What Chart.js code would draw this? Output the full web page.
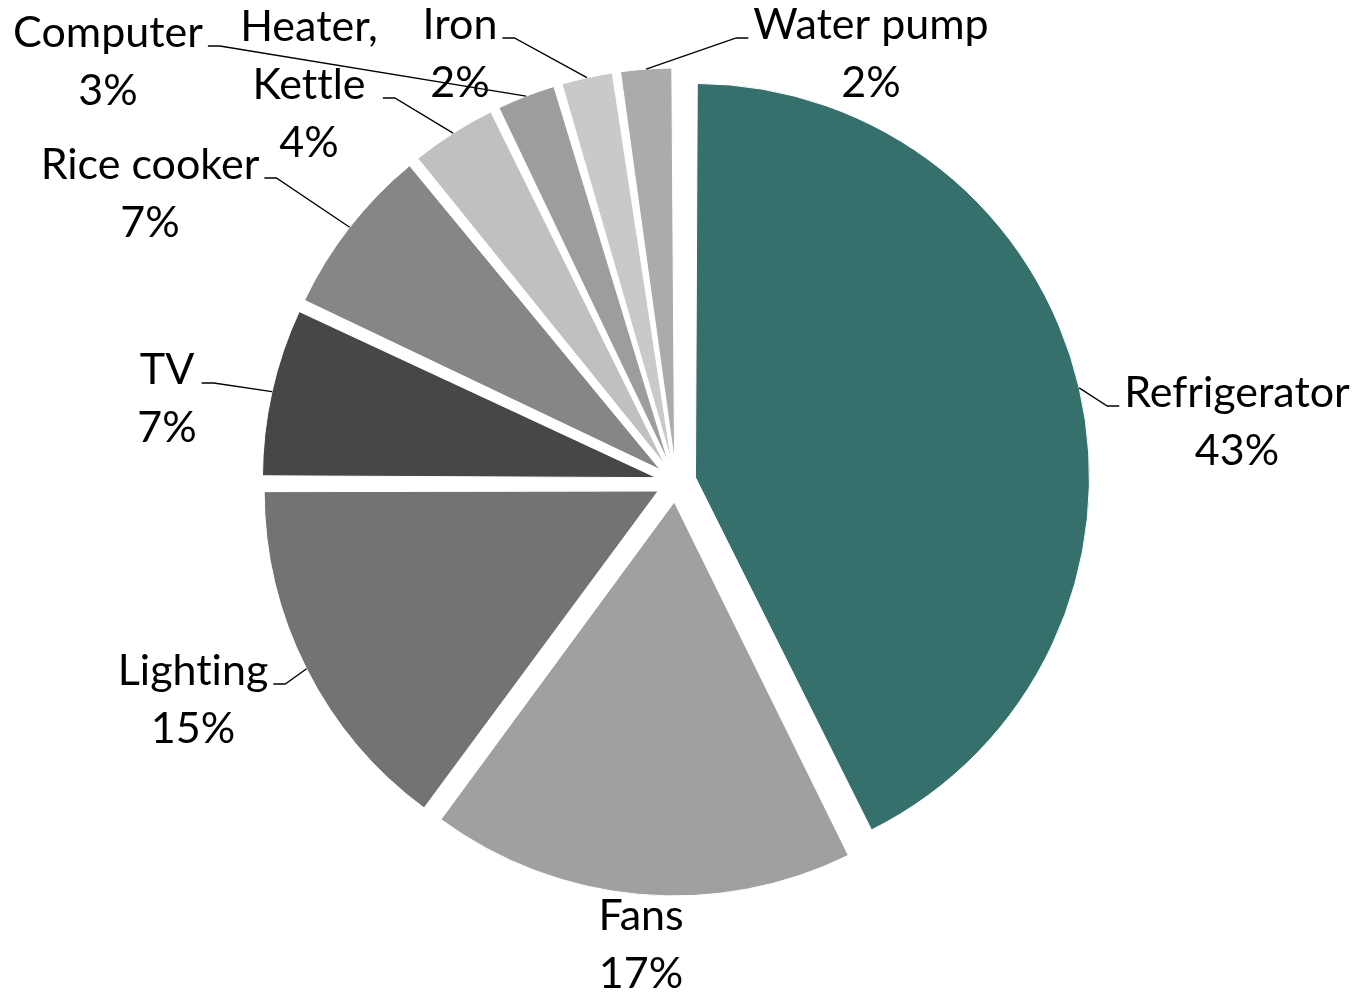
<!DOCTYPE html>
<html>
<head>
<meta charset="utf-8">
<script src="https://cdn.jsdelivr.net/npm/chart.js@4.4.1/dist/chart.umd.min.js"></script>
<style>
  html, body { margin: 0; padding: 0; background: #fff; }
  #wrap { width: 1360px; height: 994px; position: relative; }
</style>
</head>
<body>
<div id="wrap"><canvas id="pie"></canvas></div>
<script>
const categories = ["Refrigerator", "Fans", "Lighting", "TV", "Rice cooker", "Heater, Kettle", "Computer", "Iron", "Water pump"];
const shares = [42.7, 17.4, 14.9, 7.0, 7.1, 3.7, 2.6, 2.3, 2.3];
const sliceColors = ["#35706c", "#a0a0a0", "#737373", "#474747", "#868686", "#c0c0c0", "#9d9d9d", "#c9c9c9", "#ababab"];

// where each label sits (centre of its first line)
const labelX = [1237, 641, 193, 167, 150, 309, 108, 460, 871];
const labelY = [393, 916, 671, 370, 165, 27, 33, 25, 25];
const hasLeader = [true, false, true, true, true, true, true, true, true];

const PIE_RADIUS = 394;
const EXPLODE = 20;
const FONT = "43px Lato";
const LINE_H = 58;

const total = shares.reduce((a, b) => a + b, 0);
const pct = v => Math.round(v / total * 100) + "%";
const wrapName = s => s.split(/(?<=,)\s+/);

// chart.js grows small arcs when offset is set, keep every slice on one radius
const evenExplode = {
    id: "evenExplode",
    beforeDatasetDraw(chart, args) {
        args.meta.data.forEach(arc => {
            const fix = 1 - Math.sin(Math.min(Math.PI, arc.circumference || 0));
            arc.outerRadius = PIE_RADIUS - EXPLODE * fix;
        });
    }
};

const outsideLabels = {
    id: "outsideLabels",
    afterDraw(chart) {
        const ctx = chart.ctx;
        const arcs = chart.getDatasetMeta(0).data;
        ctx.save();
        ctx.font = FONT;
        if ("textRendering" in ctx) ctx.textRendering = "optimizeSpeed"; // no "ti" ligature
        ctx.fillStyle = "#000";
        ctx.strokeStyle = "#000";
        ctx.lineWidth = 1.3;
        ctx.textAlign = "center";
        ctx.textBaseline = "middle";
        arcs.forEach((arc, i) => {
            const lines = [...wrapName(categories[i]), pct(shares[i])];
            lines.forEach((t, k) => ctx.fillText(t, labelX[i], labelY[i] + k * LINE_H));
            if (!hasLeader[i]) return;

            const mid = (arc.startAngle + arc.endAngle) / 2;
            const ax = arc.x + Math.cos(mid) * (PIE_RADIUS + EXPLODE);
            const ay = arc.y + Math.sin(mid) * (PIE_RADIUS + EXPLODE);
            const half = Math.max(...lines.map(t => ctx.measureText(t).width)) / 2;
            const toRight = labelX[i] > ax;
            const edge = toRight ? labelX[i] - half - 5 : labelX[i] + half + 5;
            const elbow = toRight ? edge - 12 : edge + 12;
            const ly = labelY[i] + Math.floor((lines.length - 1) / 2) * LINE_H + 13;
            ctx.beginPath();
            ctx.moveTo(ax, ay);
            ctx.lineTo(elbow, ly);
            ctx.lineTo(edge, ly);
            ctx.stroke();
        });
        ctx.restore();
    }
};

function build() {
    new Chart(document.getElementById("pie"), {
        type: "pie",
        data: {
            labels: categories,
            datasets: [{
                data: shares,
                backgroundColor: sliceColors,
                borderColor: "#fff",
                borderWidth: 1,
                offset: EXPLODE * 4 // arc draw divides by 4
            }]
        },
        options: {
            responsive: true,
            maintainAspectRatio: false,
            animation: false,
            radius: PIE_RADIUS,
            layout: { padding: { left: 0, right: 8, top: 0, bottom: 30 } },
            plugins: { legend: { display: false }, tooltip: { enabled: false } }
        },
        plugins: [evenExplode, outsideLabels]
    });
}

document.fonts.load(FONT).then(build, build);
</script>
</body>
</html>
